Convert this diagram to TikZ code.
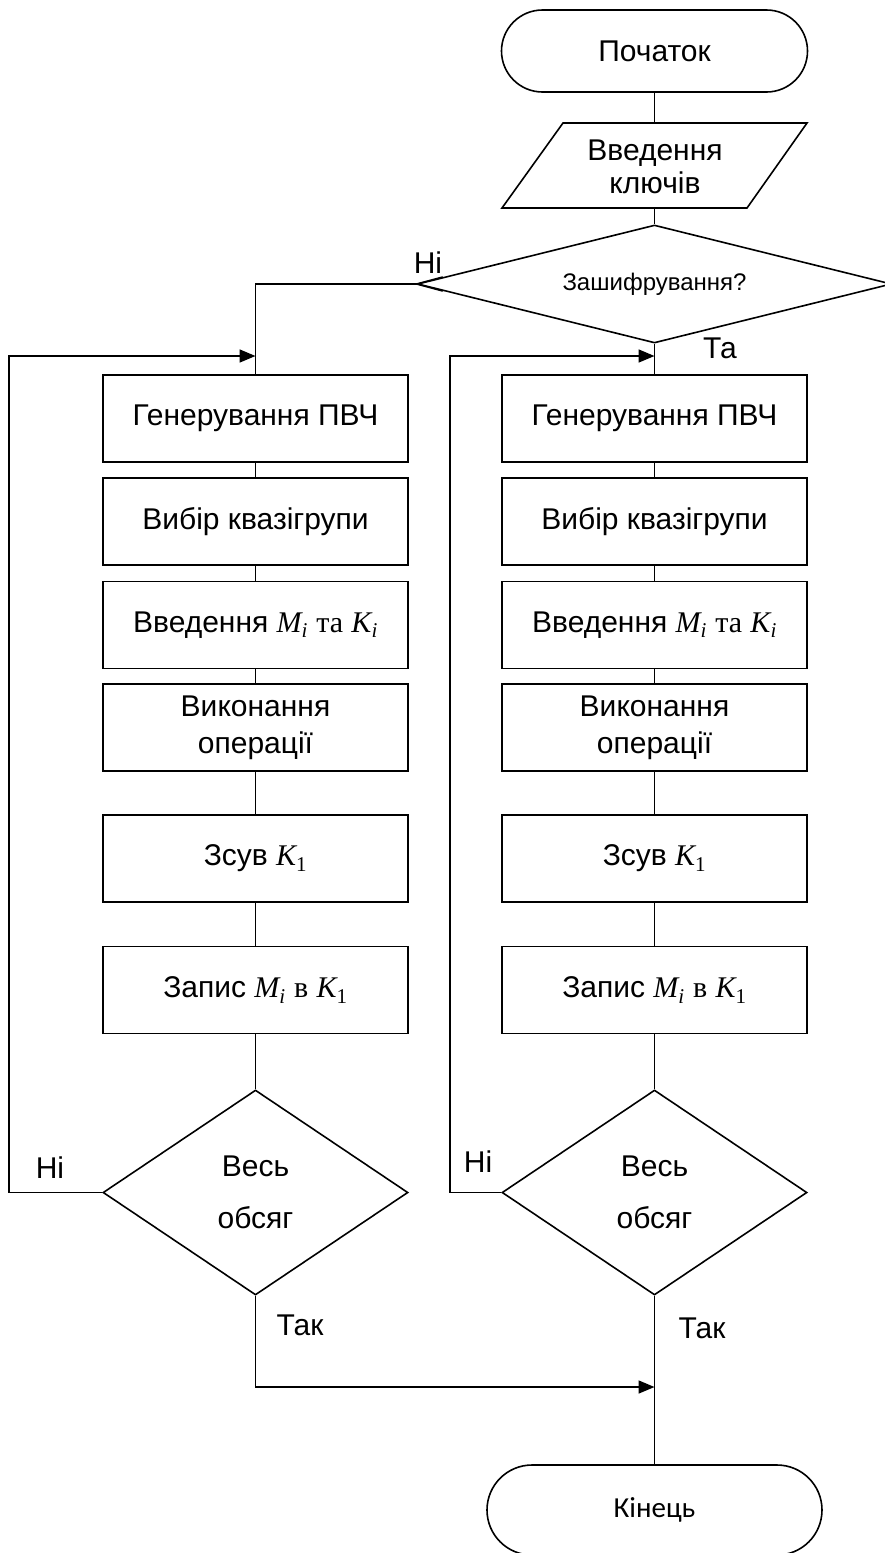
\documentclass[tikz,border=0pt]{standalone}
\usepackage{fontspec}
\setmainfont{Liberation Sans}
\newfontfamily\cyrserif{Liberation Serif}
\newfontfamily\calib{Carlito}
\newcommand\mvar[2]{{\cyrserif\itshape #1\textsubscript{#2}}}
\usetikzlibrary{shapes.geometric,shapes.misc,arrows.meta}
\begin{document}
\begin{tikzpicture}[x=1pt,y=-1pt,line width=1.6pt,
  every node/.style={font=\fontsize{30}{36}\selectfont,inner sep=0pt},
  box/.style={draw,rectangle,minimum width=305pt,minimum height=87pt,align=center},
  dia/.style={draw,diamond,aspect=1.5,minimum width=305pt,minimum height=205pt,align=center},
  term/.style={draw,rounded rectangle},
  arr/.style={-{Triangle[length=16pt,width=13pt]}},
  lbl/.style={}]
\useasboundingbox (0,0) rectangle (884,1553);
% top part
\node[term,minimum width=306pt,minimum height=82pt] (start) at (654.5,51) {Початок};
\draw (563,123) -- (807,123) -- (747,208) -- (502,208) -- cycle;
\node[align=center] (inp) at (655,167) {Введення\\[-3pt]ключів};
\coordinate (inpT) at (654.5,123);
\coordinate (inpB) at (654.5,208);
\node[draw,diamond,aspect=4,minimum width=474pt,minimum height=118pt,font=\fontsize{24}{29}\selectfont] (dec) at (654.5,284) {Зашифрування?};
% left column
\node[box] (L1) at (255.5,418.5) {Генерування ПВЧ};
\node[box] (L2) at (255.5,521.5) {Вибір квазігрупи};
\node[box] (L3) at (255.5,625) {Введення \mvar{M}{i} {\cyrserif та} \mvar{K}{i}};
\node[box] (L4) at (255.5,727.5) {Виконання\\[1pt]операції};
\node[box] (L5) at (255.5,858.5) {Зсув \mvar{K}{\upshape 1}};
\node[box] (L6) at (255.5,990) {Запис \mvar{M}{i} {\cyrserif в} \mvar{K}{\upshape 1}};
\node[dia] (L7) at (255.5,1192.5) {Весь\\[16pt]обсяг};
% right column
\node[box] (R1) at (654.5,418.5) {Генерування ПВЧ};
\node[box] (R2) at (654.5,521.5) {Вибір квазігрупи};
\node[box] (R3) at (654.5,625) {Введення \mvar{M}{i} {\cyrserif та} \mvar{K}{i}};
\node[box] (R4) at (654.5,727.5) {Виконання\\[1pt]операції};
\node[box] (R5) at (654.5,858.5) {Зсув \mvar{K}{\upshape 1}};
\node[box] (R6) at (654.5,990) {Запис \mvar{M}{i} {\cyrserif в} \mvar{K}{\upshape 1}};
\node[dia] (R7) at (654.5,1192.5) {Весь\\[16pt]обсяг};
% end
\node[term,minimum width=335pt,minimum height=90pt,font=\calib\fontsize{29}{35}\selectfont] (end) at (654.5,1510) {Кінець};
% coordinates
\coordinate (Lin) at (255.5,356);
\coordinate (Rin) at (654.5,356);
\coordinate (Jn) at (654.5,1387);
% connectors
\draw (start.south) -- (inpT);
\draw (inpB) -- (dec.north);
\draw (dec.west) -| (L1.north);
\draw (dec.west) ++(26,-7) -- (dec.west) -- ++(26,7);
\draw (dec.south) -- (R1.north);
\foreach \a/\b in {L1/L2,L2/L3,L3/L4,L4/L5,L5/L6,L6/L7,R1/R2,R2/R3,R3/R4,R4/R5,R5/R6,R6/R7}
  \draw (\a.south) -- (\b.north);
\draw[arr] (L7.west) -- ++(-93,0) |- (Lin);
\draw[arr] (R7.west) -- ++(-51,0) |- (Rin);
\draw[arr] (L7.south) |- (Jn);
\draw (R7.south) -- (end.north);
% labels
\node[lbl] (noA) at (428,263) {Ні};
\node[lbl] (yesA) at (720,348) {Та};
\node[lbl] (noL) at (50,1168) {Ні};
\node[lbl] (noR) at (478,1162) {Ні};
\node[lbl] (yesL) at (300,1325) {Так};
\node[lbl] (yesR) at (702,1328) {Так};
\end{tikzpicture}
\end{document}
